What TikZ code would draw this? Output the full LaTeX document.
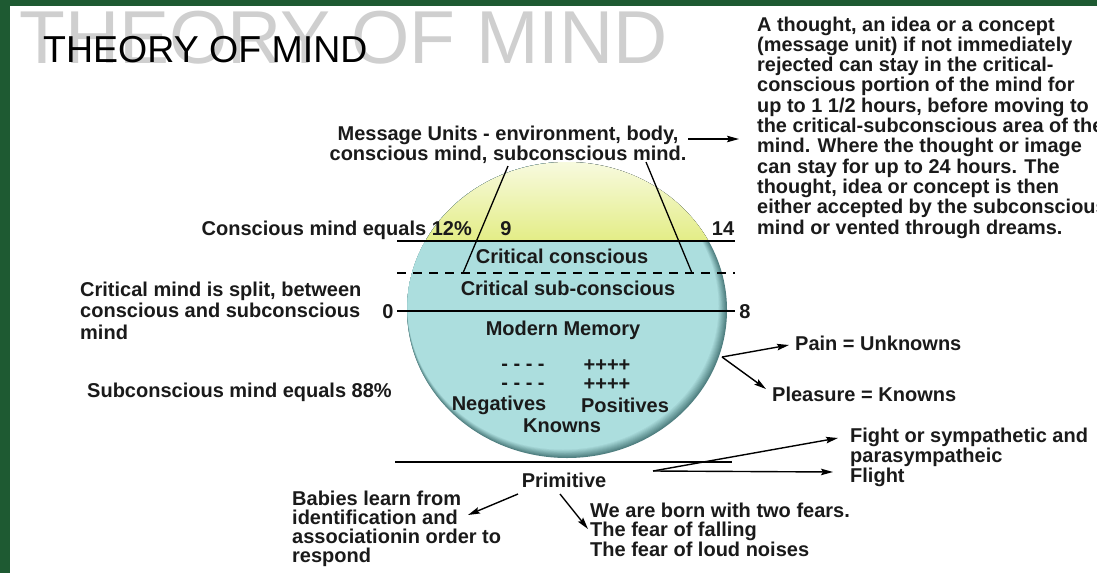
\documentclass[tikz,border=0pt]{standalone}
\usepackage{fontspec}
\setmainfont{Liberation Sans}
\usetikzlibrary{arrows.meta}
\definecolor{boardgreen}{HTML}{1E5A32}
\definecolor{ballblue}{HTML}{ACDEDE}
\definecolor{rimblue}{HTML}{4F7F80}
\definecolor{sunyellow}{HTML}{E3ED86}
\definecolor{ghostgray}{HTML}{CFCFCF}
\definecolor{inkgray}{HTML}{1A1A1A}
\tikzset{
  txt/.style={font=\bfseries\fontsize{20}{19.5}\selectfont, inner sep=0pt, align=left, text=inkgray},
  lead/.style={font=\bfseries\fontsize{20}{#1}\selectfont},
  heading/.style={font=\fontsize{37.5}{37.5}\selectfont, inner sep=0pt},
  ghost/.style={font=\fontsize{75}{75}\selectfont, inner sep=0pt, text=ghostgray},
  divider/.style={line width=1.6pt},
  split/.style={line width=1.6pt, dash pattern=on 9pt off 7pt},
  pointer/.style={line width=1.4pt, ->},
}
\begin{document}
\begin{tikzpicture}[x=1pt,y=-1pt,>={Stealth[length=12pt,width=6.5pt,inset=2pt]}]
	\useasboundingbox (0,0) rectangle (1097,573);
	\fill[boardgreen] (0,0) rectangle (1097,573);
	\fill[white] (10,6) rectangle (1097,573);

	% the mind
	\begin{scope}
		\clip (567,310) ellipse [x radius=160, y radius=148];
		\fill[rimblue] (400,150) rectangle (740,470);
		\foreach \k [evaluate=\k as \p using int(\k*10)] in {1,...,10}
			\fill[ballblue!\p!rimblue] (567-\k*0.4,310-\k*0.4) ellipse [x radius=160-\k*0.45, y radius=148-\k*0.45];
		\fill[top color=sunyellow!25!white, bottom color=sunyellow] (400,160) rectangle (740,241);
	\end{scope}

	\node[ghost, anchor=base west] (ghostttl) at (19,63) {THEORY OF MIND};
	\node[heading, anchor=base west] (ttl) at (43,62) {THEORY OF MIND};

	% multi-line texts sit on their last line
	\node[txt, lead=19.5, align=center, anchor=base] (msg) at (508,160) {Message Units - environment, body,\\conscious mind, subconscious mind.};
	\node[txt, font=\bfseries\fontsize{19.9}{20.3}\selectfont, anchor=base west] (thought) at (757,234) {A thought, an idea or a concept\\(message unit) if not immediately\\rejected can stay in the critical-\\conscious portion of the mind for\\up to 1 1/2 hours, before moving to\\the critical-subconscious area of the\\mind. Where the thought or image\\can stay for up to 24 hours. The\\thought, idea or concept is then\\either accepted by the subconscious\\mind or vented through dreams.};

	\node[txt, anchor=base east] (conspct) at (472,235) {Conscious mind equals 12\%};
	\node[txt, anchor=base] (nine) at (506,235) {9};
	\node[txt, anchor=base] (fourteen) at (723,235) {14};
	\node[txt, anchor=base] (critcons) at (562,263) {Critical conscious};
	\node[txt, anchor=base] (critsub) at (568,295) {Critical sub-conscious};
	\node[txt, anchor=base] (zero) at (388,318) {0};
	\node[txt, anchor=base] (eight) at (745,318) {8};
	\node[txt, anchor=base] (memory) at (563,335) {Modern Memory};
	\node[txt, anchor=base] (negA) at (523,370) {- - - -};
	\node[txt, anchor=base] (negB) at (523,389) {- - - -};
	\node[txt, anchor=base] (posA) at (607,371) {++++};
	\node[txt, anchor=base] (posB) at (607,390) {++++};
	\node[txt, anchor=base] (neg) at (499,410) {Negatives};
	\node[txt, anchor=base] (pos) at (625,412) {Positives};
	\node[txt, anchor=base] (knowns) at (562,432) {Knowns};

	\node[txt, lead=21.5, anchor=base west] (split) at (80,339) {Critical mind is split, between\\conscious and subconscious\\mind};
	\node[txt, anchor=base west] (subpct) at (87,397) {Subconscious mind equals 88\%};

	\node[txt, anchor=base west] (pain) at (795,350) {Pain = Unknowns};
	\node[txt, anchor=base west] (pleasure) at (772,401) {Pleasure = Knowns};
	\node[txt, lead=18.5, anchor=base west] (fight) at (850,482) {Fight or sympathetic and\\parasympatheic\\Flight};

	\node[txt, anchor=base] (primitive) at (564,487) {Primitive};
	\node[txt, lead=19, anchor=base west] (babies) at (292,562) {Babies learn from\\identification and\\associationin order to\\respond};
	\node[txt, lead=18.5, anchor=base west] (fears) at (590,556) {We are born with two fears.\\The fear of falling\\The fear of loud noises};

	% dividers
	\coordinate (consL) at (397,241);
	\coordinate (consR) at (735,241);
	\coordinate (critL) at (397,273);
	\coordinate (critR) at (735,273);
	\coordinate (memL) at (397,311);
	\coordinate (memR) at (735,311);
	\coordinate (primL) at (395,462);
	\coordinate (primR) at (732,462);
	\draw[divider] (consL) -- (consR);
	\draw[split] (critL) -- (critR);
	\draw[divider] (memL) -- (memR);
	\draw[divider] (primL) -- (primR);

	% message unit lines
	\coordinate (unitA) at (508,166);
	\coordinate (unitAend) at (463,273);
	\coordinate (unitB) at (646,162);
	\coordinate (unitBend) at (692,273);
	\draw[line width=1.3pt] (unitA) -- (unitAend);
	\draw[line width=1.3pt] (unitB) -- (unitBend);

	% arrows
	\coordinate (msgtail) at (688,139);
	\coordinate (msghead) at (739,139);
	\draw[pointer] (msgtail) -- (msghead);
	\coordinate (feel) at (722,357);
	\coordinate (painhead) at (789,345);
	\coordinate (pleasurehead) at (766,389);
	\draw[pointer] (feel) -- (painhead);
	\draw[pointer] (feel) -- (pleasurehead);
	\coordinate (react) at (653,471);
	\coordinate (fighthead) at (838,438);
	\coordinate (flighthead) at (833,472);
	\draw[pointer] (react) -- (fighthead);
	\draw[pointer] (react) -- (flighthead);
	\coordinate (learn) at (518,494);
	\coordinate (learnhead) at (468,515);
	\coordinate (born) at (560,494);
	\coordinate (bornhead) at (588,529);
	\draw[pointer] (learn) -- (learnhead);
	\draw[pointer] (born) -- (bornhead);
\end{tikzpicture}
\end{document}
